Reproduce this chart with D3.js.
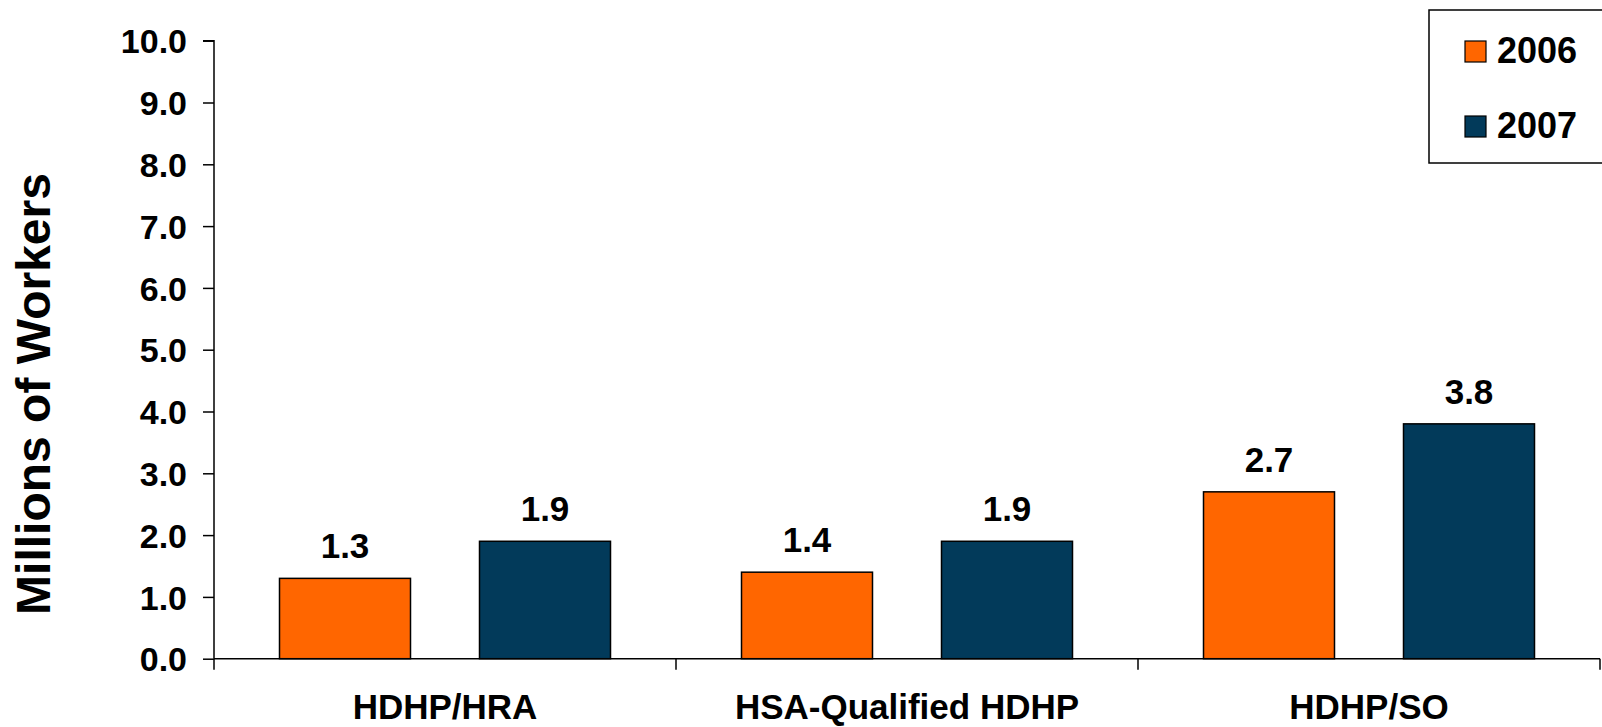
<!DOCTYPE html>
<html>
<head>
<meta charset="utf-8">
<script src="https://cdn.jsdelivr.net/npm/d3@7"></script>
<style>
  html, body { margin: 0; padding: 0; background: #fff; }
  svg { display: block; font-family: "Liberation Sans", Arial, sans-serif; font-weight: bold; }
</style>
</head>
<body>
<svg id="chart" width="1602" height="727"></svg>
<script>
const categories = ["HDHP/HRA", "HSA-Qualified HDHP", "HDHP/SO"];
const seriesNames = ["2006", "2007"];
const values2006 = [1.3, 1.4, 2.7];
const values2007 = [1.9, 1.9, 3.8];
const yTicks = [0, 1, 2, 3, 4, 5, 6, 7, 8, 9, 10];
const colors = ["#FF6600", "#023A5A"];

const svg = d3.select("#chart");
const mLeft = 214, mRight = 1600, mTop = 40.7, mBottom = 658.7;

const x = d3.scaleBand().domain(categories).range([mLeft, mRight]).padding(0);
const y = d3.scaleLinear().domain([0, 10]).range([mBottom, mTop]);
const half = x.bandwidth() / 2;
const xSub = d3.scaleBand().domain(seriesNames).range([-half, half]).paddingInner(0.345).paddingOuter(0.3275);

const data = categories.map((c, i) => ({ cat: c, vals: [values2006[i], values2007[i]] }));

// bars
const groups = svg.selectAll("g.grp").data(data).join("g")
  .attr("class", "grp")
  .attr("transform", d => `translate(${x(d.cat) + half},0)`);

groups.selectAll("rect").data(d => d.vals.map((v, j) => ({ v, s: seriesNames[j], j })))
  .join("rect")
  .attr("x", d => xSub(d.s))
  .attr("width", xSub.bandwidth())
  .attr("y", d => y(d.v))
  .attr("height", d => y(0) - y(d.v))
  .attr("fill", d => colors[d.j])
  .attr("stroke", "#000")
  .attr("stroke-width", 1.5);

groups.selectAll("text.val").data(d => d.vals.map((v, j) => ({ v, s: seriesNames[j] })))
  .join("text")
  .attr("class", "val")
  .attr("x", d => xSub(d.s) + xSub.bandwidth() / 2)
  .attr("y", d => y(d.v) - 20)
  .attr("text-anchor", "middle")
  .attr("font-size", 35)
  .attr("fill", "#000")
  .text(d => d.v.toFixed(1));

// y axis
const yAxis = d3.axisLeft(y).tickValues(yTicks).tickFormat(d3.format(".1f")).tickSize(11).tickPadding(16);
const gy = svg.append("g").attr("transform", `translate(${mLeft},0)`).call(yAxis);
gy.select(".domain").attr("stroke", "#000").attr("stroke-width", 1.5).attr("d", `M-11,${mTop}H0V${mBottom}`);
gy.selectAll(".tick line").attr("stroke", "#000").attr("stroke-width", 1.5);
gy.selectAll(".tick text").attr("font-size", 34).attr("font-family", "Liberation Sans, Arial, sans-serif")
  .attr("font-weight", "bold").attr("fill", "#000").attr("dy", "0.36em");

// x axis
const gx = svg.append("g").attr("transform", `translate(0,${mBottom})`);
gx.append("line").attr("x1", mLeft).attr("x2", mRight).attr("y1", 0).attr("y2", 0)
  .attr("stroke", "#000").attr("stroke-width", 1.5);
const boundaries = categories.map(c => x(c)).concat([mRight]);
gx.selectAll("line.tk").data(boundaries).join("line").attr("class", "tk")
  .attr("x1", d => d).attr("x2", d => d).attr("y1", 0).attr("y2", 11)
  .attr("stroke", "#000").attr("stroke-width", 1.5);
gx.selectAll("text.cat").data(categories).join("text").attr("class", "cat")
  .attr("x", d => x(d) + half)
  .attr("y", 60)
  .attr("text-anchor", "middle")
  .attr("font-size", 35)
  .attr("fill", "#000")
  .text(d => d);

// y title
svg.append("text")
  .attr("transform", `translate(50,394) rotate(-90)`)
  .attr("text-anchor", "middle")
  .attr("font-size", 48)
  .attr("fill", "#000")
  .text("Millions of Workers");

// legend
const lg = svg.append("g");
lg.append("rect").attr("x", 1429).attr("y", 10).attr("width", 200).attr("height", 153)
  .attr("fill", "#fff").attr("stroke", "#000").attr("stroke-width", 1.5);
const items = lg.selectAll("g.item").data(seriesNames).join("g").attr("class", "item")
  .attr("transform", (d, i) => `translate(1465,${41 + i * 75})`);
items.append("rect").attr("width", 21).attr("height", 21)
  .attr("fill", (d, i) => colors[i]).attr("stroke", "#000").attr("stroke-width", 1.2);
items.append("text").attr("x", 32).attr("y", 22).attr("font-size", 36).attr("fill", "#000").text(d => d);
</script>
</body>
</html>
